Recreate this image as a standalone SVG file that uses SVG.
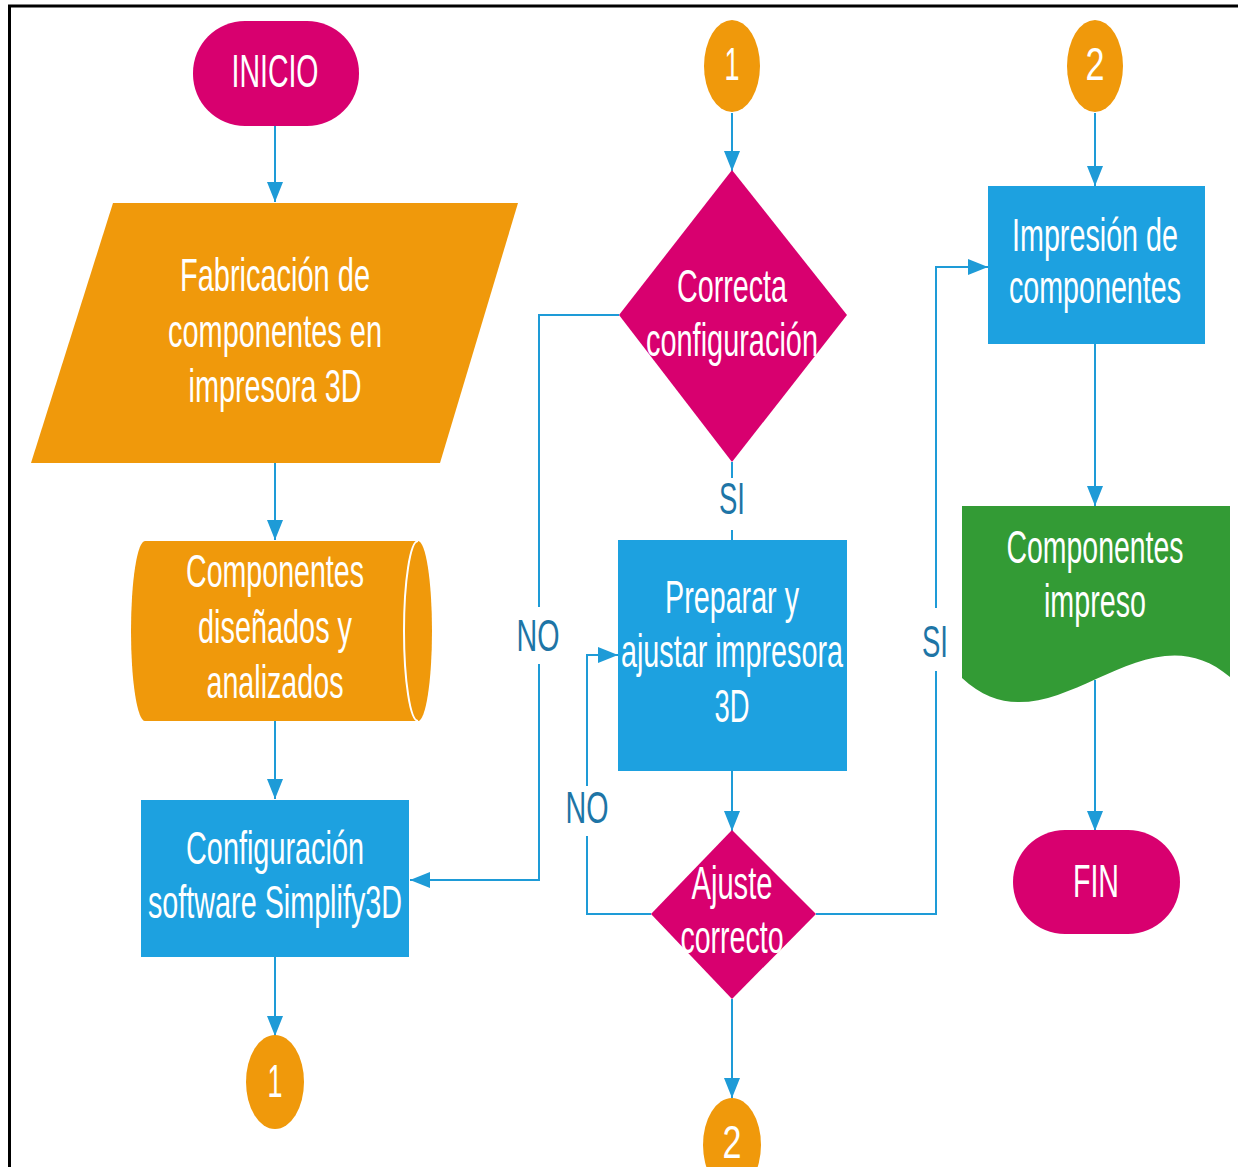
<svg xmlns="http://www.w3.org/2000/svg" width="1238" height="1167" viewBox="0 0 1238 1167">
<defs>
<style>
.t{font-family:"Liberation Sans",Arial,sans-serif;font-size:46px;fill:#ffffff;text-anchor:middle}
.lb{font-family:"Liberation Sans",Arial,sans-serif;font-size:44px;fill:#1E75A6;text-anchor:middle}
.mag{fill:#D8006F}
.org{fill:#F0990B}
.blu{fill:#1DA1E0}
.grn{fill:#339B35}
.c{fill:none;stroke:#1E9BD7;stroke-width:2}
.a{marker-end:url(#arr)}
</style>
<marker id="arr" markerUnits="userSpaceOnUse" markerWidth="20" markerHeight="16" refX="20" refY="8" orient="auto">
<path d="M0,0 L20,8 L0,16 Z" fill="#1E9BD7"/>
</marker>
</defs>
<rect width="1238" height="1167" fill="#ffffff"/>
<path d="M9.5,1167 V6 H1238" fill="none" stroke="#000" stroke-width="3"/>

<g id="connectors">
<path class="c a" d="M275,126 V202"/>
<path class="c a" d="M275,463 V540"/>
<path class="c a" d="M275,721 V799"/>
<path class="c a" d="M275,957 V1036"/>
<path class="c a" d="M732,113 V171"/>
<path class="c" d="M732,462 V540"/>
<path class="c a" d="M732,771 V831"/>
<path class="c a" d="M732,999 V1098"/>
<path class="c a" d="M651,914 H587 V655 H618"/>
<path class="c a" d="M619,315 H539 V880 H410"/>
<path class="c a" d="M816,914 H936 V267 H988"/>
<path class="c a" d="M1095,113 V186"/>
<path class="c a" d="M1095,344 V506"/>
<path class="c a" d="M1095,680 V831"/>
</g>

<g id="labels">
<rect x="715" y="478" width="34" height="52" fill="#fff"/>
<text class="lb" x="732" y="514" textLength="26" lengthAdjust="spacingAndGlyphs">SI</text>
<rect x="514" y="607" width="50" height="57" fill="#fff"/>
<text class="lb" x="538" y="651" textLength="43" lengthAdjust="spacingAndGlyphs">NO</text>
<rect x="562" y="786" width="50" height="50" fill="#fff"/>
<text class="lb" x="587" y="823" textLength="43" lengthAdjust="spacingAndGlyphs">NO</text>
<rect x="918" y="608" width="36" height="63" fill="#fff"/>
<text class="lb" x="935" y="657" textLength="26" lengthAdjust="spacingAndGlyphs">SI</text>
</g>

<g id="inicio">
<rect class="mag" x="193" y="21" width="166" height="105" rx="52" ry="52"/>
<text class="t" x="275" y="87" font-size="48" textLength="87" lengthAdjust="spacingAndGlyphs">INICIO</text>
</g>

<g id="fabricacion">
<polygon class="org" points="113,203 518,203 440,463 31,463"/>
<text class="t" x="275" y="291" textLength="190" lengthAdjust="spacingAndGlyphs">Fabricación de</text>
<text class="t" x="275" y="347" textLength="214" lengthAdjust="spacingAndGlyphs">componentes en</text>
<text class="t" x="275" y="402" textLength="173" lengthAdjust="spacingAndGlyphs">impresora 3D</text>
</g>

<g id="componentes-disenados">
<path class="org" d="M145,541 H418 A14,90 0 0 1 418,721 H145 A14,90 0 0 1 145,541 Z"/>
<path d="M418,541 A14,90 0 0 0 418,721" fill="none" stroke="#fff" stroke-width="2"/>
<text class="t" x="275" y="587" textLength="178" lengthAdjust="spacingAndGlyphs">Componentes</text>
<text class="t" x="275" y="643" textLength="154" lengthAdjust="spacingAndGlyphs">diseñados y</text>
<text class="t" x="275" y="698" textLength="137" lengthAdjust="spacingAndGlyphs">analizados</text>
</g>

<g id="configuracion">
<rect class="blu" x="141" y="800" width="268" height="157"/>
<text class="t" x="275" y="864" textLength="178" lengthAdjust="spacingAndGlyphs">Configuración</text>
<text class="t" x="275" y="918" textLength="254" lengthAdjust="spacingAndGlyphs">software Simplify3D</text>
</g>

<g id="conector-1-salida">
<ellipse class="org" cx="275" cy="1082" rx="29" ry="47"/>
<text class="t" x="275" y="1097" font-size="44" textLength="15" lengthAdjust="spacingAndGlyphs">1</text>
</g>

<g id="conector-1-entrada">
<ellipse class="org" cx="732" cy="66" rx="28" ry="46"/>
<text class="t" x="732" y="80" font-size="44" textLength="15" lengthAdjust="spacingAndGlyphs">1</text>
</g>

<g id="correcta-configuracion">
<polygon class="mag" points="732,170 847,315 732,462 619,315"/>
<text class="t" x="732" y="302" textLength="110" lengthAdjust="spacingAndGlyphs">Correcta</text>
<text class="t" x="732" y="356" textLength="172" lengthAdjust="spacingAndGlyphs">configuración</text>
</g>

<g id="preparar">
<rect class="blu" x="618" y="540" width="229" height="231"/>
<text class="t" x="732" y="613" textLength="134" lengthAdjust="spacingAndGlyphs">Preparar y</text>
<text class="t" x="732" y="667" textLength="222" lengthAdjust="spacingAndGlyphs">ajustar impresora</text>
<text class="t" x="732" y="722" textLength="35" lengthAdjust="spacingAndGlyphs">3D</text>
</g>

<g id="ajuste-correcto">
<polygon class="mag" points="732,830 816,914 732,999 651,914"/>
<text class="t" x="732" y="899" textLength="81" lengthAdjust="spacingAndGlyphs">Ajuste</text>
<text class="t" x="732" y="953" textLength="103" lengthAdjust="spacingAndGlyphs">correcto</text>
</g>

<g id="conector-2-salida">
<ellipse class="org" cx="732" cy="1145" rx="29" ry="47"/>
<text class="t" x="732" y="1158" font-size="44" textLength="19" lengthAdjust="spacingAndGlyphs">2</text>
</g>

<g id="conector-2-entrada">
<ellipse class="org" cx="1095" cy="66" rx="28" ry="46"/>
<text class="t" x="1095" y="80" font-size="44" textLength="19" lengthAdjust="spacingAndGlyphs">2</text>
</g>

<g id="impresion">
<rect class="blu" x="988" y="186" width="217" height="158"/>
<text class="t" x="1095" y="251" textLength="166" lengthAdjust="spacingAndGlyphs">Impresión de</text>
<text class="t" x="1095" y="303" textLength="172" lengthAdjust="spacingAndGlyphs">componentes</text>
</g>

<g id="componentes-impreso">
<path class="grn" d="M962,506 H1230 V677 C1140,600 1050,760 962,678 Z"/>
<text class="t" x="1095" y="563" textLength="177" lengthAdjust="spacingAndGlyphs">Componentes</text>
<text class="t" x="1095" y="617" textLength="102" lengthAdjust="spacingAndGlyphs">impreso</text>
</g>

<g id="fin">
<rect class="mag" x="1013" y="830" width="167" height="104" rx="52" ry="52"/>
<text class="t" x="1096" y="897" textLength="46" lengthAdjust="spacingAndGlyphs">FIN</text>
</g>
</svg>
